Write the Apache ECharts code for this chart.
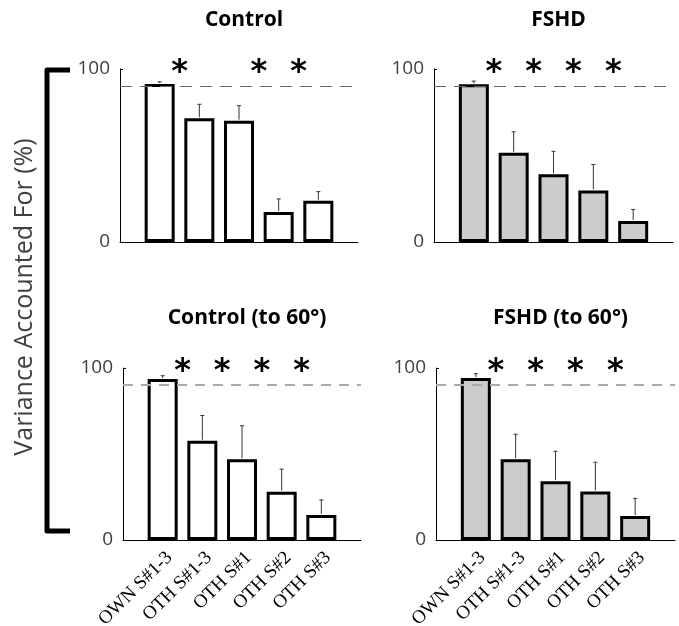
<!DOCTYPE html>
<html>
<head>
<meta charset="utf-8">
<script src="https://cdn.jsdelivr.net/npm/echarts@6/dist/echarts.min.js"></script>
<style>
  html, body { margin: 0; padding: 0; background: #fff; }
  #chart { width: 679px; height: 626px; }
</style>
</head>
<body>
<div id="chart"></div>
<script>
// bar labels
var categories = ['OWN S#1-3', 'OTH S#1-3', 'OTH S#1', 'OTH S#2', 'OTH S#3'];

// mean values (%) and error (upper SD) per panel
var controlMean = [91.3, 71.5, 70.1, 17.3, 23.9];
var controlErr = [1.3, 8.1, 8.7, 7.6, 5.2];
var fshdMean = [91.2, 51.6, 39.1, 29.8, 12.2];
var fshdErr = [1.8, 12.1, 13.3, 15.0, 6.6];
var control60Mean = [93.6, 57.7, 47.0, 28.1, 14.6];
var control60Err = [1.9, 14.7, 19.4, 13.1, 8.7];
var fshd60Mean = [94.2, 47.0, 34.2, 28.2, 13.9];
var fshd60Err = [2.5, 14.5, 17.4, 17.0, 10.3];

// asterisk positions (between bars), threshold line
var controlStars = [1.5, 3.5, 4.5];
var fshdStars = [1.5, 2.5, 3.5, 4.5];
var control60Stars = [1.5, 2.5, 3.5, 4.5];
var fshd60Stars = [1.5, 2.5, 3.5, 4.5];
var threshold = 90;
var yTicks = [0, 100];

var panels = [
  { title: 'Control', mean: controlMean, err: controlErr, stars: controlStars, fill: '#ffffff' },
  { title: 'FSHD', mean: fshdMean, err: fshdErr, stars: fshdStars, fill: '#cccccc' },
  { title: 'Control (to 60°)', mean: control60Mean, err: control60Err, stars: control60Stars, fill: '#ffffff' },
  { title: 'FSHD (to 60°)', mean: fshd60Mean, err: fshd60Err, stars: fshd60Stars, fill: '#cccccc' }
];

var grids = [
  { left: 120, top: 69, width: 238, height: 173 },
  { left: 434, top: 69, width: 239, height: 173 },
  { left: 123, top: 368, width: 238, height: 172 },
  { left: 436, top: 368, width: 239, height: 172 }
];

var chart = echarts.init(document.getElementById('chart'));

var option = {
  animation: false,
  backgroundColor: '#fff',
  title: [],
  grid: [],
  xAxis: [],
  yAxis: [],
  series: [],
  graphic: [
    {
      type: 'polyline',
      shape: { points: [[70, 70], [47, 70], [47, 531], [70, 531]] },
      style: { stroke: '#000', lineWidth: 5, fill: null, lineJoin: 'round' }
    },
    {
      type: 'text',
      x: 25, y: 297,
      rotation: Math.PI / 2,
      style: {
        text: 'Variance Accounted For (%)',
        fontFamily: 'Open Sans', fontSize: 25, fill: '#404040',
        align: 'center', verticalAlign: 'middle'
      }
    }
  ]
};

panels.forEach(function (p, i) {
  var g = grids[i];
  var bottomRow = i >= 2;
  option.grid.push({
    left: g.left, top: g.top, width: g.width, height: g.height,
    containLabel: false, outerBoundsMode: 'none'
  });
  option.title.push({
    text: p.title,
    left: g.left + g.width / 2,
    top: bottomRow ? 303 : 5,
    textAlign: 'center',
    textStyle: { fontFamily: 'Open Sans', fontWeight: 'bold', fontSize: 21, color: '#000' }
  });
  option.xAxis.push({
    type: 'value', gridIndex: i, min: 0, max: 6, interval: 1,
    axisLine: { show: true, onZero: false, lineStyle: { color: '#000', width: 1 } },
    axisTick: { show: false },
    splitLine: { show: false },
    axisLabel: {
      show: bottomRow, rotate: 45, margin: 8, verticalAlign: 'top',
      fontFamily: 'Liberation Serif', fontSize: 19, color: '#000',
      formatter: function (v) { return categories[v - 1] || ''; }
    }
  });
  option.yAxis.push({
    type: 'value', gridIndex: i, min: yTicks[0], max: yTicks[1], interval: 100,
    axisLine: { show: true, onZero: false, lineStyle: { color: '#000', width: 1 } },
    axisTick: { show: true, inside: true, length: 3, lineStyle: { color: '#000' } },
    splitLine: { show: false },
    axisLabel: { margin: 10, fontFamily: 'Open Sans', fontSize: 19, color: '#404040' }
  });
  option.series.push({
    type: 'bar', xAxisIndex: i, yAxisIndex: i,
    barWidth: 30,
    data: p.mean.map(function (v, k) { return [k + 1, v]; }),
    itemStyle: { color: p.fill, borderColor: '#000', borderWidth: 3 },
    markLine: {
      silent: true, symbol: 'none', label: { show: false },
      lineStyle: bottomRow
        ? { color: '#aaaaaa', type: [10, 8], width: 2 }
        : { color: '#666666', type: [12, 8], width: 1 },
      data: [{ yAxis: threshold }]
    },
    z: 2
  });
  option.series.push({
    type: 'custom', xAxisIndex: i, yAxisIndex: i,
    data: p.mean.map(function (v, k) { return [k + 1, v, p.err[k]]; }),
    renderItem: function (params, api) {
      var x = api.value(0), m = api.value(1), e = api.value(2);
      var p0 = api.coord([x, m]);
      var p1 = api.coord([x, m + e]);
      var st = { stroke: '#333', lineWidth: 1 };
      return {
        type: 'group',
        children: [
          { type: 'line', shape: { x1: p0[0], y1: p0[1] - 1, x2: p1[0], y2: p1[1] }, style: st },
          { type: 'line', shape: { x1: p1[0] - 2, y1: p1[1], x2: p1[0] + 2, y2: p1[1] }, style: st }
        ]
      };
    },
    z: 3
  });
  option.series.push({
    type: 'custom', xAxisIndex: i, yAxisIndex: i, clip: false,
    data: p.stars.map(function (x) { return [x, yTicks[1]]; }),
    renderItem: function (params, api) {
      var c = api.coord([api.value(0), api.value(1)]);
      return {
        type: 'text', x: c[0], y: c[1] + 4,
        style: {
          text: '*', fontFamily: 'DejaVu Sans', fontWeight: 'bold', fontSize: 32,
          fill: '#000', align: 'center', verticalAlign: 'middle'
        }
      };
    },
    z: 4
  });
});

chart.setOption(option);
</script>
</body>
</html>
